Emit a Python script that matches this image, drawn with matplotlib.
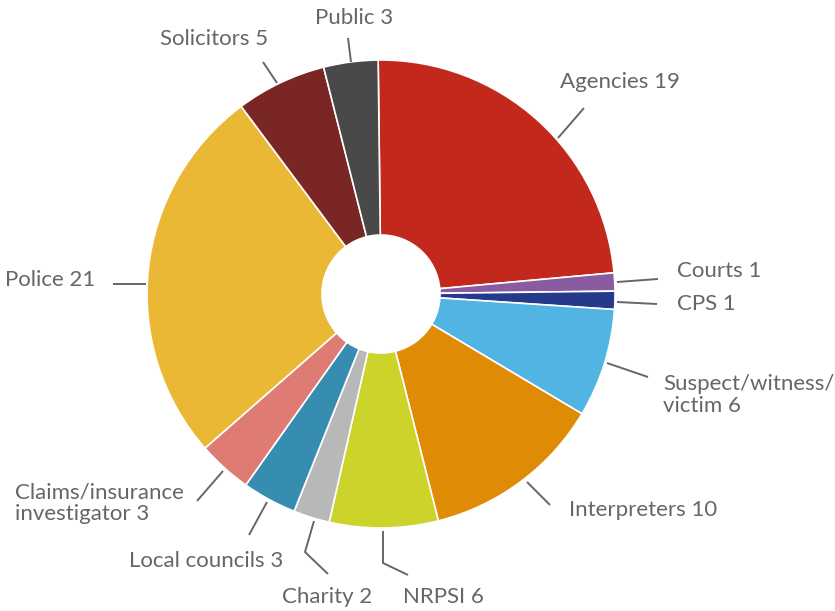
import matplotlib.pyplot as plt

plt.rcParams["font.family"] = ["Lato", "DejaVu Sans"]

# referrals by source
sources = ["Agencies", "Courts", "CPS", "Suspect/witness/\nvictim", "Interpreters",
           "NRPSI", "Charity", "Local councils", "Claims/insurance\ninvestigator",
           "Police", "Solicitors", "Public"]
counts = [19, 1, 1, 6, 10, 6, 2, 3, 3, 21, 5, 3]
colours = ["#C3281C", "#8A5BA0", "#263A8C", "#52B4E2", "#E08B05", "#CCD32A",
           "#B8B8B8", "#378DB0", "#DE7B73", "#EAB835", "#7A2624", "#494949"]

# label text anchor (x, y, ha) and leader line points, pixel space
label_pos = [(560, 82, "left"), (677, 271, "left"), (677, 304, "left"),
             (663, 395, "left"), (569, 510, "left"), (403, 597, "left"),
             (372, 597, "right"), (283, 561, "right"), (15, 503, "left"),
             (95, 280, "right"), (268, 39, "right"), (393, 18, "right")]
leaders = [[(558, 138), (584, 108)],
           [(617, 282), (658, 279)],
           [(617, 302), (657, 304)],
           [(607, 363), (648, 377)],
           [(527, 482), (550, 505)],
           [(383, 531), (383, 563), (408, 575)],
           [(314, 521), (305, 552), (328, 574)],
           [(267, 502), (249, 535)],
           [(223, 471), (197, 501)],
           [(146, 284), (113, 284)],
           [(277, 83), (263, 62)],
           [(351, 62), (348, 38)]]

W, H = 835, 611
cx, cy, r_out, r_in = 381, 294, 234, 59

fig = plt.figure(figsize=(W / 100, H / 100), dpi=100)
ax = fig.add_axes([0, 0, 1, 1])

# y axis runs downward, so counterclock in data space is clockwise on screen
ax.pie(counts, colors=colours, startangle=-90.7, counterclock=True,
       center=(cx, cy), radius=r_out,
       wedgeprops=dict(width=r_out - r_in, edgecolor="white", linewidth=1.2))
ax.set_xlim(0, W)
ax.set_ylim(H, 0)
ax.set_aspect("auto")
ax.axis("off")

for name, n, (tx, ty, ha), pts in zip(sources, counts, label_pos, leaders):
    xs = [p[0] for p in pts]
    ys = [p[1] for p in pts]
    ax.plot(xs, ys, color="#666666", lw=1.4, solid_capstyle="butt")
    ax.text(tx, ty, f"{name} {n}", ha=ha, va="center", fontsize=16,
            color="#666666", linespacing=1.1)

fig.savefig("out.png", dpi=100, facecolor="white")
